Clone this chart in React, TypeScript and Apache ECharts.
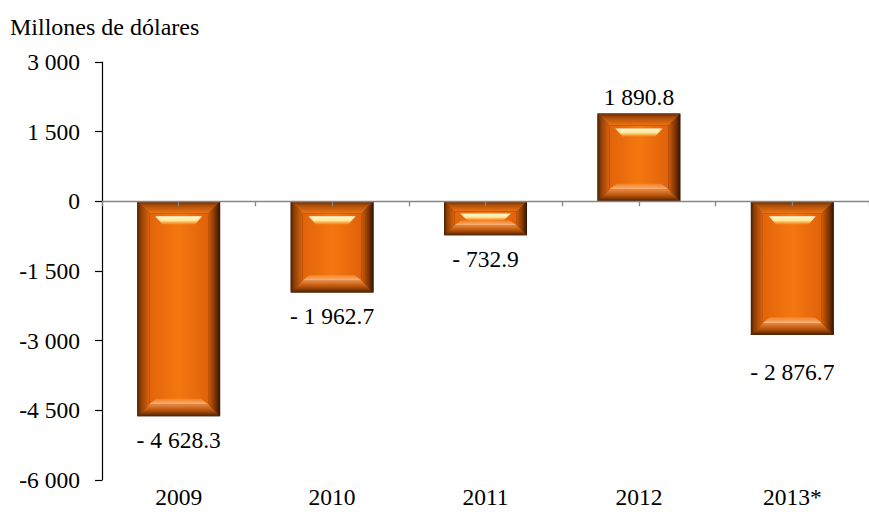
import React, { useEffect, useRef } from "react";
import * as echarts from "echarts";

const categories = ["2009", "2010", "2011", "2012", "2013*"];
const values = [-4628.3, -1962.7, -732.9, 1890.8, -2876.7];
const yTicks = { min: -6000, max: 3000, interval: 1500 };
const unitLabel = "Millones de dólares";

const FONT = "Liberation Serif";
const FS = 23.5;
const BAR_RATIO = 0.54;

function fmtNum(n: number, decimals: number): string {
  const s = Math.abs(n).toFixed(decimals);
  const [intPart, dec] = s.split(".");
  const grouped = intPart.replace(/\B(?=(\d{3})+(?!\d))/g, " ");
  return dec !== undefined ? grouped + "." + dec : grouped;
}

function fmtLabel(v: number): string {
  return (v < 0 ? "- " : "") + fmtNum(v, 1);
}

function fmtAxis(v: number): string {
  return (v < 0 ? "-" : "") + fmtNum(v, 0);
}

function lg(x2: number, y2: number, stops: [number, string][]) {
  return new echarts.graphic.LinearGradient(
    0,
    0,
    x2,
    y2,
    stops.map(([offset, color]) => ({ offset, color }))
  );
}

export default function App() {
  const ref = useRef<HTMLDivElement>(null);

  useEffect(() => {
    if (!ref.current) return;
    const chart = echarts.init(ref.current, null, { renderer: "svg" });

    const renderBevel = (params: any, api: any) => {
      const idx = api.value(0);
      const v = api.value(1);
      const p0 = api.coord([idx, 0]);
      const p1 = api.coord([idx, v]);
      const w = api.size([1, 0])[0] * BAR_RATIO;
      const x0 = p0[0] - w / 2;
      const x1 = x0 + w;
      const y0 = Math.min(p0[1], p1[1]);
      const y1 = Math.max(p0[1], p1[1]);
      const h = y1 - y0;
      const b = Math.min(12, h * 0.3, w * 0.15);
      const hi = Math.min(8, h * 0.2);
      const off = Math.min(3, h * 0.06);
      const children: any[] = [
        // inner face
        {
          type: "rect",
          shape: { x: x0 + b, y: y0 + b, width: w - 2 * b, height: h - 2 * b },
          style: {
            fill: lg(1, 0, [
              [0, "#e2640a"],
              [0.5, "#f47810"],
              [1, "#e0620a"],
            ]),
          },
        },
        // left bevel
        {
          type: "polygon",
          shape: { points: [[x0, y0], [x0 + b, y0 + b], [x0 + b, y1 - b], [x0, y1]] },
          style: {
            fill: lg(1, 0, [
              [0, "#4a2003"],
              [0.3, "#8e4006"],
              [1, "#de620a"],
            ]),
          },
        },
        // right bevel
        {
          type: "polygon",
          shape: { points: [[x1, y0], [x1 - b, y0 + b], [x1 - b, y1 - b], [x1, y1]] },
          style: {
            fill: lg(1, 0, [
              [0, "#d45c08"],
              [0.6, "#7a3405"],
              [1, "#301402"],
            ]),
          },
        },
        // top bevel
        {
          type: "polygon",
          shape: { points: [[x0, y0], [x1, y0], [x1 - b, y0 + b], [x0 + b, y0 + b]] },
          style: {
            fill: lg(0, 1, [
              [0, "#6a2e05"],
              [0.4, "#b4520a"],
              [1, "#ee7412"],
            ]),
          },
        },
        // bottom bevel
        {
          type: "polygon",
          shape: { points: [[x0, y1], [x1, y1], [x1 - b, y1 - b], [x0 + b, y1 - b]] },
          style: {
            fill: lg(0, 1, [
              [0, "#ee8a3c"],
              [0.55, "#b04e08"],
              [1, "#4a2003"],
            ]),
          },
        },
        // top highlight
        {
          type: "polygon",
          shape: {
            points: [
              [x0 + b + 6, y0 + b + off],
              [x1 - b - 6, y0 + b + off],
              [x1 - b - 13, y0 + b + off + hi],
              [x0 + b + 13, y0 + b + off + hi],
            ],
          },
          style: {
            fill: lg(0, 1, [
              [0, "#fffbe0"],
              [0.55, "#ffe690"],
              [1, "rgba(250,150,50,0.5)"],
            ]),
          },
        },
        // bottom highlight
        {
          type: "polygon",
          shape: {
            points: [
              [x0 + b + 7, y1 - b - hi * 0.7],
              [x1 - b - 7, y1 - b - hi * 0.7],
              [x1 - b, y1 - b],
              [x0 + b, y1 - b],
            ],
          },
          style: {
            fill: lg(0, 1, [
              [0, "rgba(247,150,70,0.5)"],
              [1, "#f8b682"],
            ]),
          },
        },
      ];
      return { type: "group", children };
    };

    const option: any = {
      animation: false,
      backgroundColor: "#ffffff",
      textStyle: { fontFamily: FONT },
      title: {
        text: unitLabel,
        left: 10,
        top: 15,
        padding: 0,
        textStyle: { fontFamily: FONT, fontSize: 24, fontWeight: "normal", color: "#000" },
      },
      grid: { left: 102, top: 62, width: 777.5, height: 418, containLabel: false },
      xAxis: [
        {
          type: "category",
          data: categories,
          position: "bottom",
          axisLine: { show: false, onZero: false },
          axisTick: { show: false },
          axisLabel: { margin: 5, color: "#000", fontSize: FS, fontFamily: FONT },
        },
        {
          type: "category",
          data: new Array(categories.length * 2).fill(""),
          position: "bottom",
          z: 10,
          axisLine: { show: true, onZero: true, lineStyle: { color: "#868686", width: 1.3 } },
          axisTick: { show: true, length: 5, lineStyle: { color: "#868686", width: 1.3 } },
          axisLabel: { show: false },
        },
      ],
      yAxis: {
        type: "value",
        min: yTicks.min,
        max: yTicks.max,
        interval: yTicks.interval,
        z: 10,
        splitLine: { show: false },
        axisLine: { show: true, lineStyle: { color: "#000", width: 1.2 } },
        axisTick: { show: true, length: 7, lineStyle: { color: "#000", width: 1.2 } },
        axisLabel: {
          margin: 22,
          color: "#000",
          fontSize: FS,
          fontFamily: FONT,
          formatter: (v: number) => fmtAxis(v),
        },
      },
      series: [
        {
          type: "bar",
          xAxisIndex: 0,
          barWidth: BAR_RATIO * 100 + "%",
          data: values.map((v, i) => ({
            value: v,
            label: {
              position: v < 0 ? "bottom" : "top",
              distance: v < 0 ? (i === 4 ? 25 : 12) : 5,
            },
          })),
          itemStyle: { color: "#4a2003" },
          label: {
            show: true,
            color: "#000",
            fontSize: FS,
            fontFamily: FONT,
            formatter: (p: any) => fmtLabel(p.value),
          },
        },
        {
          type: "custom",
          xAxisIndex: 0,
          silent: true,
          z: 3,
          data: values.map((v, i) => [i, v]),
          encode: { x: 0, y: 1 },
          renderItem: renderBevel,
        },
      ],
    };

    chart.setOption(option);
    return () => chart.dispose();
  }, []);

  return (
    <div
      ref={ref}
      style={{ position: "absolute", left: 0, top: 0, width: 869, height: 518 }}
    />
  );
}
